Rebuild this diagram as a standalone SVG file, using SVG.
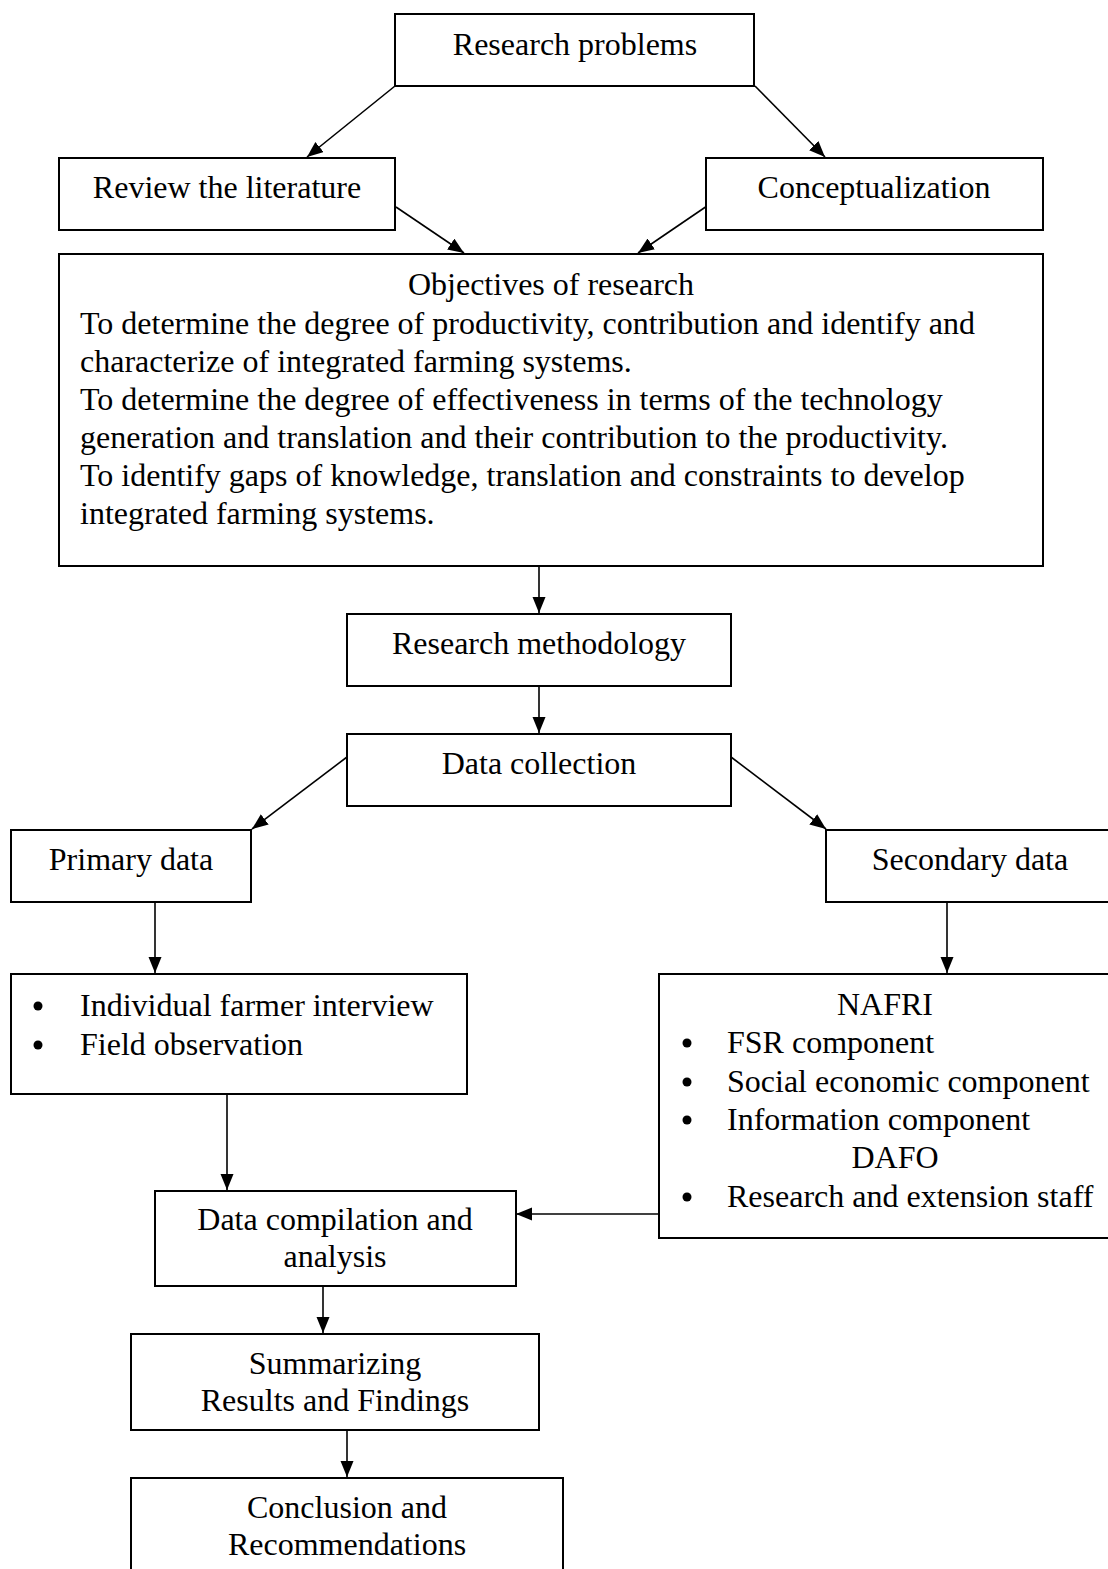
<svg xmlns="http://www.w3.org/2000/svg" width="1108" height="1569" viewBox="0 0 1108 1569">
<style>
.box{fill:#fff;stroke:#000;stroke-width:2}
.t{font-family:"Liberation Serif","Times New Roman",serif;font-size:32px;fill:#000}
.c{text-anchor:middle}
.con line{stroke:#000;stroke-width:1.6}
</style>
<defs>
<marker id="ah" markerUnits="userSpaceOnUse" markerWidth="18" markerHeight="14" refX="16" refY="6.5" orient="auto">
<path d="M0,0 L16,6.5 L0,13 Z" fill="#000"/>
</marker>
</defs>
<rect width="1108" height="1569" fill="#fff"/>
<g class="con">
<line x1="395" y1="86" x2="307" y2="157" marker-end="url(#ah)"/>
<line x1="755" y1="86" x2="825" y2="157" marker-end="url(#ah)"/>
<line x1="396" y1="207" x2="464" y2="253" marker-end="url(#ah)"/>
<line x1="707" y1="206" x2="638" y2="253" marker-end="url(#ah)"/>
<line x1="539" y1="566" x2="539" y2="613" marker-end="url(#ah)"/>
<line x1="539" y1="686" x2="539" y2="733" marker-end="url(#ah)"/>
<line x1="347" y1="757" x2="252" y2="829" marker-end="url(#ah)"/>
<line x1="731" y1="757" x2="826" y2="829" marker-end="url(#ah)"/>
<line x1="155" y1="902" x2="155" y2="973" marker-end="url(#ah)"/>
<line x1="947" y1="902" x2="947" y2="973" marker-end="url(#ah)"/>
<line x1="227" y1="1094" x2="227" y2="1190" marker-end="url(#ah)"/>
<line x1="659" y1="1214" x2="516" y2="1214" marker-end="url(#ah)"/>
<line x1="323" y1="1286" x2="323" y2="1333" marker-end="url(#ah)"/>
<line x1="347" y1="1430" x2="347" y2="1477" marker-end="url(#ah)"/>
</g>
<g id="research-problems">
<rect class="box" x="395" y="14" width="359" height="72"/>
<text class="t c" x="575" y="55">Research problems</text>
</g>
<g id="review-literature">
<rect class="box" x="59" y="158" width="336" height="72"/>
<text class="t c" x="227" y="198">Review the literature</text>
</g>
<g id="conceptualization">
<rect class="box" x="706" y="158" width="337" height="72"/>
<text class="t c" x="874" y="198">Conceptualization</text>
</g>
<g id="objectives">
<rect class="box" x="59" y="254" width="984" height="312"/>
<text class="t c" x="551" y="295">Objectives of research</text>
<text class="t" x="80" y="334">To determine the degree of productivity, contribution and identify and</text>
<text class="t" x="80" y="372">characterize of integrated farming systems.</text>
<text class="t" x="80" y="410">To determine the degree of effectiveness in terms of the technology</text>
<text class="t" x="80" y="448">generation and translation and their contribution to the productivity.</text>
<text class="t" x="80" y="486">To identify gaps of knowledge, translation and constraints to develop</text>
<text class="t" x="80" y="524">integrated farming systems.</text>
</g>
<g id="research-methodology">
<rect class="box" x="347" y="614" width="384" height="72"/>
<text class="t c" x="539" y="654">Research methodology</text>
</g>
<g id="data-collection">
<rect class="box" x="347" y="734" width="384" height="72"/>
<text class="t c" x="539" y="774">Data collection</text>
</g>
<g id="primary-data">
<rect class="box" x="11" y="830" width="240" height="72"/>
<text class="t c" x="131" y="870">Primary data</text>
</g>
<g id="secondary-data">
<rect class="box" x="826" y="830" width="290" height="72"/>
<text class="t c" x="970" y="870">Secondary data</text>
</g>
<g id="primary-methods">
<rect class="box" x="11" y="974" width="456" height="120"/>
<circle cx="38" cy="1006" r="4.5"/>
<text class="t" x="80" y="1016">Individual farmer interview</text>
<circle cx="38" cy="1045" r="4.5"/>
<text class="t" x="80" y="1055">Field observation</text>
</g>
<g id="secondary-sources">
<rect class="box" x="659" y="974" width="455" height="264"/>
<text class="t c" x="885" y="1015">NAFRI</text>
<circle cx="687" cy="1043" r="4.5"/>
<text class="t" x="727" y="1053">FSR component</text>
<circle cx="687" cy="1082" r="4.5"/>
<text class="t" x="727" y="1092">Social economic component</text>
<circle cx="687" cy="1120" r="4.5"/>
<text class="t" x="727" y="1130">Information component</text>
<text class="t c" x="895" y="1168">DAFO</text>
<circle cx="687" cy="1197" r="4.5"/>
<text class="t" x="727" y="1207">Research and extension staff</text>
</g>
<g id="data-compilation">
<rect class="box" x="155" y="1191" width="361" height="95"/>
<text class="t c" x="335" y="1230">Data compilation and</text>
<text class="t c" x="335" y="1267">analysis</text>
</g>
<g id="summarizing">
<rect class="box" x="131" y="1334" width="408" height="96"/>
<text class="t c" x="335" y="1374">Summarizing</text>
<text class="t c" x="335" y="1411">Results and Findings</text>
</g>
<g id="conclusion">
<rect class="box" x="131" y="1478" width="432" height="100"/>
<text class="t c" x="347" y="1518">Conclusion and</text>
<text class="t c" x="347" y="1555">Recommendations</text>
</g>
</svg>
